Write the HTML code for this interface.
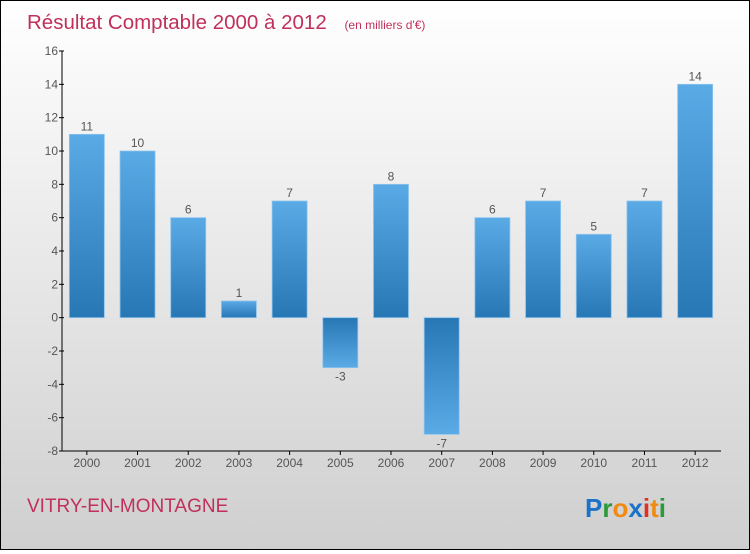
<!DOCTYPE html>
<html><head><meta charset="utf-8">
<style>
html,body{margin:0;padding:0;width:750px;height:550px;overflow:hidden}
body{font-family:"Liberation Sans",sans-serif}
#wrap{position:absolute;left:0;top:0;width:748px;height:548px;border:1px solid #000;background:linear-gradient(#ffffff,#cfcfcf)}
</style></head><body>
<div id="wrap">
<svg id="chart" width="748" height="548" font-family="'Liberation Sans',sans-serif">
<defs>
<linearGradient id="gp" x1="0" y1="0" x2="0" y2="1"><stop offset="0" stop-color="#5aaae6"/><stop offset="1" stop-color="#2877b5"/></linearGradient>
<linearGradient id="gn" x1="0" y1="0" x2="0" y2="1"><stop offset="0" stop-color="#2877b5"/><stop offset="1" stop-color="#5aaae6"/></linearGradient>
</defs>
<text x="26" y="28" font-size="20.5" fill="#c0305a">Résultat Comptable 2000 à 2012 <tspan font-size="12" dx="12">(en milliers d'€)</tspan></text>
<text x="26" y="511" font-size="19" fill="#c0305a">VITRY-EN-MONTAGNE</text>
<g font-size="26" font-weight="bold">
<text x="584" y="516"><tspan fill="#1a73c8">P</tspan><tspan fill="#2a9a3a">r</tspan><tspan fill="#f08a10">o</tspan><tspan fill="#1a73c8">x</tspan><tspan fill="#e03020">i</tspan><tspan fill="#f08a10">t</tspan><tspan fill="#2a9a3a">i</tspan></text>
</g>
<g id="plot"></g>
</svg>
</div>
<script>
const years=["2000","2001","2002","2003","2004","2005","2006","2007","2008","2009","2010","2011","2012"];
const values=[11,10,6,1,7,-3,8,-7,6,7,5,7,14];
const yTicks=[16,14,12,10,8,6,4,2,0,-2,-4,-6,-8];
const ns="http://www.w3.org/2000/svg";
const g=document.getElementById('plot');
const x0=61,x1=720,yTop=50,yBot=450,vMin=-8,vMax=16;
const yS=v=>yBot-(v-vMin)*(yBot-yTop)/(vMax-vMin);
const step=(x1-x0)/years.length;
const xC=i=>x0+step*(i+0.5)-0.5;
function mk(t,a){const e=document.createElementNS(ns,t);for(const k in a)e.setAttribute(k,a[k]);g.appendChild(e);return e;}
values.forEach((v,i)=>{
 const y=Math.min(yS(v),yS(0)),h=Math.abs(yS(v)-yS(0));
 const r=mk('rect',{x:xC(i)-17.5,y:y,width:35,height:h,fill:v>=0?'url(#gp)':'url(#gn)',stroke:'#8cc4ee','stroke-width':0.8});
 
 
 const t=mk('text',{x:xC(i),y:v>=0?yS(v)-4:yS(v)+13,'font-size':12,fill:'#555','text-anchor':'middle'});
 t.textContent=v;
 
 
});
const ya=mk('line',{x1:x0,y1:yTop,x2:x0,y2:yBot,stroke:'#000','stroke-width':1});


const xa=mk('line',{x1:x0,y1:yBot,x2:x1,y2:yBot,stroke:'#000','stroke-width':1});


yTicks.forEach(v=>{
 const y=yS(v);
 const l=mk('line',{x1:x0-3,y1:y,x2:x0+2,y2:y,stroke:'#000'});
 
 
 const t=mk('text',{x:x0-4,y:y+4,'font-size':12,fill:'#555','text-anchor':'end'});
 t.textContent=v;
 
 
});
years.forEach((yr,i)=>{
 const l=mk('line',{x1:xC(i),y1:yBot,x2:xC(i),y2:yBot+4,stroke:'#000'});
 
 
 const t=mk('text',{x:xC(i),y:yBot+16,'font-size':12,fill:'#555','text-anchor':'middle'});
 t.textContent=yr;
 
 
});
</script>
</body></html>
